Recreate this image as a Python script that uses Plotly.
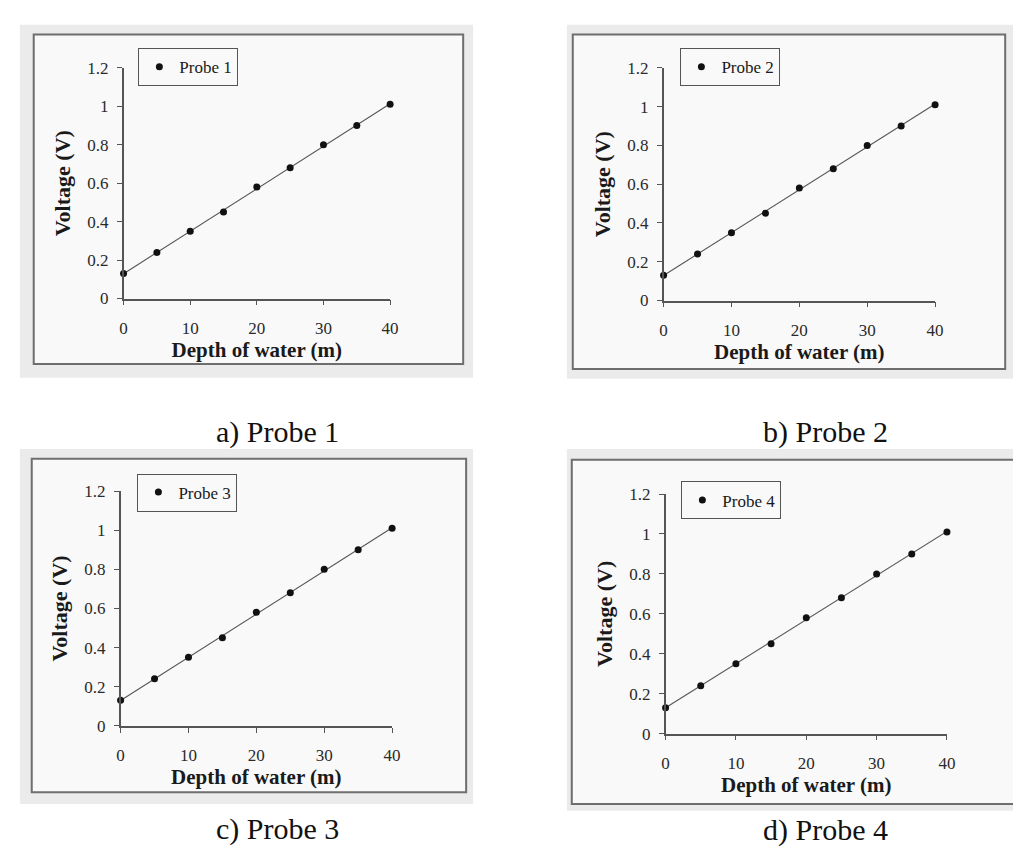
import numpy as np
import plotly.graph_objects as go

# ---- data ----
depth = [0, 5, 10, 15, 20, 25, 30, 35, 40]
probe1 = [0.13, 0.24, 0.35, 0.45, 0.58, 0.68, 0.80, 0.90, 1.01]
probe2 = [0.13, 0.24, 0.35, 0.45, 0.58, 0.68, 0.80, 0.90, 1.01]
probe3 = [0.13, 0.24, 0.35, 0.45, 0.58, 0.68, 0.80, 0.90, 1.01]
probe4 = [0.13, 0.24, 0.35, 0.45, 0.58, 0.68, 0.80, 0.90, 1.01]
series_names = ["Probe 1", "Probe 2", "Probe 3", "Probe 4"]
captions = ["a) Probe 1", "b) Probe 2", "c) Probe 3", "d) Probe 4"]
x_ticks = [0, 10, 20, 30, 40]
y_ticks = [0, 0.2, 0.4, 0.6, 0.8, 1.0, 1.2]
y_tick_text = ["0", "0.2", "0.4", "0.6", "0.8", "1", "1.2"]
x_title = "Depth of water (m)"
y_title = "Voltage (V)"

W, H = 1021, 848

# ---- layout geometry (pixels) ----
panels = [
    dict(gray=(8, 8, 467, 369), frame=(22, 18, 457, 355), plot=(113, 383, 288, 52), leg=(128, 32), cap=(269, 424)),
    dict(gray=(562, 8, 1015, 370), frame=(568, 18, 1006, 360), plot=(660, 935, 290, 52), leg=(677, 32), cap=(824, 424)),
    dict(gray=(8, 442, 467, 805), frame=(20, 452, 460, 793), plot=(110, 385, 725, 485), leg=(127, 467), cap=(269, 831)),
    dict(gray=(562, 442, 1021, 812), frame=(567, 453, 1016, 805), plot=(662, 947, 733, 488), leg=(678, 475), cap=(824, 832)),
]

def px(x):
    return x / W

def py(y):
    return 1 - y / H

fig = go.Figure()
series = [probe1, probe2, probe3, probe4]
shapes = []
annotations = []
layout_extra = {}

serif = "Liberation Serif, Times New Roman, serif"

for i, (p, vals, name, cap) in enumerate(zip(panels, series, series_names, captions)):
    k = "" if i == 0 else str(i + 1)
    xa, ya = "x" + k, "y" + k
    leg = "legend" + k

    coef = np.polyfit(depth, vals, 1)
    fit_x = [depth[0], depth[-1]]
    fit_y = [float(np.polyval(coef, v)) for v in fit_x]

    fig.add_trace(go.Scatter(x=fit_x, y=fit_y, mode="lines", xaxis=xa, yaxis=ya,
                             line=dict(color="#555555", width=1.1), showlegend=False,
                             hoverinfo="skip", cliponaxis=False))
    fig.add_trace(go.Scatter(x=depth, y=vals, mode="markers", name=name, xaxis=xa, yaxis=ya,
                             marker=dict(color="#111111", size=7), legend=leg, cliponaxis=False))

    x0, x1, yb, yt = p["plot"]
    axis_common = dict(showgrid=False, zeroline=False, showline=True, linecolor="#555555",
                       linewidth=1.5, ticks="outside", ticklen=5, tickwidth=1.2, tickcolor="#555555",
                       tickfont=dict(family=serif, size=17, color="#2a2a2a"))
    layout_extra["xaxis" + k] = dict(axis_common, domain=[px(x0), px(x1)], anchor=ya,
                                     range=[0, 40], tickvals=x_ticks, ticklabelstandoff=8,
                                     title=dict(text="<b>" + x_title + "</b>", standoff=4,
                                                font=dict(family=serif, size=21, color="#1a1a1a")))
    layout_extra["yaxis" + k] = dict(axis_common, domain=[py(yb), py(yt)], anchor=xa,
                                     range=[0, 1.2], tickvals=y_ticks, ticktext=y_tick_text,
                                     ticklabelstandoff=5,
                                     title=dict(text="<b>" + y_title + "</b>", standoff=10,
                                                font=dict(family=serif, size=22, color="#1a1a1a")))
    lx, ly = p["leg"]
    layout_extra[leg] = dict(x=px(lx), y=py(ly), xanchor="left", yanchor="top",
                             bgcolor="#f9f9f9", bordercolor="#555555", borderwidth=1,
                             font=dict(family=serif, size=17, color="#1a1a1a"),
                             itemwidth=30, tracegroupgap=0)

    gx0, gy0, gx1, gy1 = p["gray"]
    shapes.append(dict(type="rect", xref="paper", yref="paper", layer="below",
                       x0=px(gx0), x1=px(gx1), y0=py(gy1), y1=py(gy0),
                       fillcolor="#ebebeb", line=dict(width=0)))
    fx0, fy0, fx1, fy1 = p["frame"]
    shapes.append(dict(type="rect", xref="paper", yref="paper", layer="below",
                       x0=px(fx0), x1=px(fx1), y0=py(fy1), y1=py(fy0),
                       fillcolor="#f9f9f9", line=dict(color="#6e6e6e", width=2)))
    cx, cy = p["cap"]
    annotations.append(dict(text=cap, x=px(cx), y=py(cy), xref="paper", yref="paper",
                            xanchor="center", yanchor="middle", showarrow=False,
                            font=dict(family=serif, size=30, color="#111111")))

fig.update_layout(width=W, height=H, margin=dict(l=0, r=0, t=0, b=0),
                  paper_bgcolor="white", plot_bgcolor="rgba(0,0,0,0)",
                  shapes=shapes, annotations=annotations, **layout_extra)

fig.write_html("out.html")
